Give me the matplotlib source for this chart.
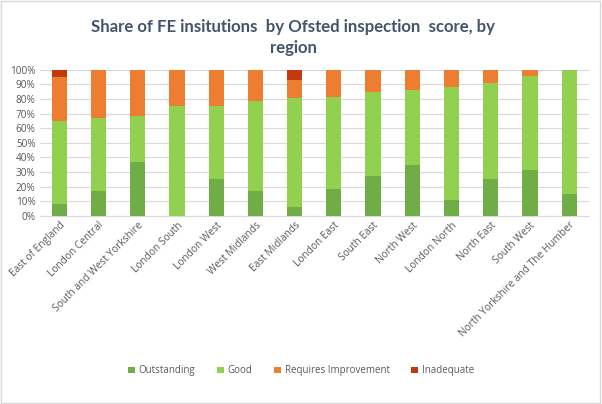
import numpy as np
import matplotlib.pyplot as plt
from matplotlib.patches import Rectangle
from matplotlib.ticker import PercentFormatter

regions = ['East of England', 'London Central', 'South and West Yorkshire',
           'London South', 'London West', 'West Midlands', 'East Midlands',
           'London East', 'South East', 'North West', 'London North',
           'North East', 'South West', 'North Yorkshire and The Humber']

# shares in %
outstanding = [8, 16.7, 36.8, 0, 25, 16.7, 6.3, 18, 27, 34.5, 11, 25, 31.5, 15]
good = [57, 50, 31.6, 75, 50, 62.3, 74.7, 63.5, 57.5, 51.8, 77.6, 66.3, 64.5, 85]
requires_improvement = [30.4, 33.3, 31.6, 25, 25, 21, 12.2, 18.5, 15.5, 13.7, 11.4, 8.7, 4, 0]
inadequate = [4.6, 0, 0, 0, 0, 0, 6.8, 0, 0, 0, 0, 0, 0, 0]

series = [('Outstanding', outstanding, '#70AD47'),
          ('Good', good, '#92D050'),
          ('Requires Improvement', requires_improvement, '#ED7D31'),
          ('Inadequate', inadequate, '#C4390C')]

fig = plt.figure(figsize=(6.02, 4.04), dpi=100)
ax = fig.add_axes([0.066, 0.466, 0.912, 0.361])

x = np.arange(len(regions))
bottom = np.zeros(len(regions))
for name, vals, col in series:
    vals = np.array(vals)
    ax.bar(x, vals, 0.39, bottom=bottom, color=col, label=name, zorder=3)
    bottom += vals

ax.set_xlim(-0.5, len(regions) - 0.5)
ax.set_ylim(0, 100)
ax.set_yticks(np.arange(0, 101, 10))
ax.yaxis.set_major_formatter(PercentFormatter(decimals=0))
ax.grid(axis='y', color='#D9D9D9', linewidth=0.8, zorder=0)
for s in ['top', 'right', 'left']:
    ax.spines[s].set_visible(False)
ax.spines['bottom'].set_color('#D9D9D9')
ax.tick_params(length=0, colors='#595959', labelsize=7.2, pad=3)
ax.set_xticks(x)
ax.set_xticklabels(regions, rotation=45, ha='right', rotation_mode='anchor',
                   fontfamily='Open Sans', fontsize=7.3, color='#595959')
for lab in ax.get_yticklabels():
    lab.set_fontfamily('Open Sans')

fig.text(0.487, 0.907, 'Share of FE insitutions  by Ofsted inspection  score, by\nregion',
         ha='center', va='center', fontsize=12.1, fontweight='bold',
         color='#44546A', fontfamily='Lato', linespacing=1.37)

ax.legend(loc='center', bbox_to_anchor=(0.5, 0.082), bbox_transform=fig.transFigure,
          ncol=4, frameon=False, handlelength=0.7, handleheight=0.7,
          handletextpad=0.4, columnspacing=2.2, labelcolor='#595959',
          prop={'family': 'Open Sans', 'size': 7})

fig.patches.append(Rectangle((0.002, 0.003), 0.995, 0.994, transform=fig.transFigure,
                             fill=False, edgecolor='#D9D9D9', linewidth=1))

fig.savefig('out.png', dpi=100)
